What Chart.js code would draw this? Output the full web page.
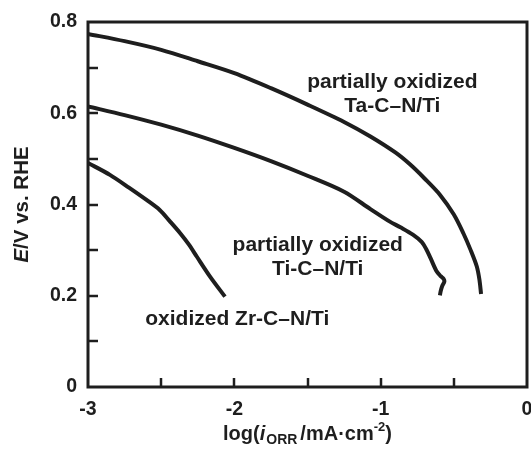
<!DOCTYPE html>
<html>
<head>
<meta charset="utf-8">
<script src="https://cdn.jsdelivr.net/npm/chart.js@4/dist/chart.umd.min.js"></script>
<style>
  html, body { margin: 0; padding: 0; background: #fff; }
  #wrap { width: 531px; height: 451px; }
</style>
</head>
<body>
<div id="wrap"><canvas id="orrChart" width="531" height="451"></canvas></div>
<script>
// Данные: log(i_ORR) и E
const taX = [-3, -2.75, -2.5, -2.25, -2, -1.75, -1.5, -1.25, -1.07, -0.9, -0.8, -0.7, -0.594, -0.5, -0.435, -0.385, -0.343, -0.325, -0.314];
const taE = [0.774, 0.758, 0.739, 0.714, 0.688, 0.655, 0.619, 0.581, 0.549, 0.514, 0.488, 0.457, 0.421, 0.378, 0.337, 0.3, 0.264, 0.235, 0.204];

const tiX = [-3, -2.75, -2.5, -2.25, -2, -1.75, -1.5, -1.25, -1.07, -0.94, -0.865, -0.78, -0.72, -0.69, -0.66, -0.62, -0.59, -0.57, -0.565, -0.58, -0.59, -0.595];
const tiE = [0.615, 0.596, 0.575, 0.551, 0.524, 0.495, 0.463, 0.428, 0.39, 0.363, 0.35, 0.334, 0.318, 0.303, 0.283, 0.255, 0.243, 0.237, 0.231, 0.221, 0.21, 0.201];

const zrX = [-3, -2.85, -2.72, -2.6, -2.51, -2.44, -2.37, -2.31, -2.257, -2.166, -2.064];
const zrE = [0.491, 0.465, 0.437, 0.41, 0.388, 0.363, 0.337, 0.312, 0.286, 0.242, 0.198];

// Подписи кривых
const curveLabels = [
    { x: -0.92, y: 0.667, lines: ['partially oxidized', 'Ta-C\u2013N/Ti'] },
    { x: -1.43, y: 0.311, lines: ['partially oxidized', 'Ti-C\u2013N/Ti'] },
    { x: -1.98, y: 0.149, lines: ['oxidized Zr-C\u2013N/Ti'] }
];

const xTickLabels = { '-3': '-3', '-2': '-2', '-1': '-1', '0': '0' };
const yTickLabels = { '0': '0', '0.2': '0.2', '0.4': '0.4', '0.6': '0.6', '0.8': '0.8' };

const INK = '#1e1e1e';
const FONT = '"Liberation Sans", Arial, sans-serif';

function toPoints(xs, ys) {
    return xs.map((x, i) => ({ x: x, y: ys[i] }));
}

function lineDataset(xs, ys) {
    return {
        data: toPoints(xs, ys),
        showLine: true,
        borderColor: INK,
        borderWidth: 4,
        pointRadius: 0,
        tension: 0.3,
        fill: false
    };
}

// Рамка и внутренние засечки
const framePlugin = {
    id: 'frameTicks',
    afterDatasetsDraw(chart) {
        const ctx = chart.ctx;
        const a = chart.chartArea;
        const xs = chart.scales.x, ys = chart.scales.y;
        ctx.save();
        ctx.strokeStyle = INK;
        ctx.lineWidth = 2.5;
        for (let v = -2.5; v < 0; v += 0.5) {
            const px = Math.round(xs.getPixelForValue(v));
            ctx.beginPath();
            ctx.moveTo(px, a.bottom);
            ctx.lineTo(px, a.bottom - 9);
            ctx.stroke();
        }
        for (let k = 1; k < 8; k++) {
            const py = Math.round(ys.getPixelForValue(k / 10));
            ctx.beginPath();
            ctx.moveTo(a.left, py);
            ctx.lineTo(a.left + 10, py);
            ctx.stroke();
        }
        ctx.lineWidth = 3;
        ctx.strokeRect(a.left, a.top, a.right - a.left, a.bottom - a.top);
        ctx.restore();
    }
};

// Подписи кривых
const labelPlugin = {
    id: 'curveLabels',
    afterDatasetsDraw(chart) {
        const ctx = chart.ctx;
        const xs = chart.scales.x, ys = chart.scales.y;
        ctx.save();
        ctx.fillStyle = INK;
        ctx.font = 'bold 21px ' + FONT;
        ctx.textAlign = 'center';
        ctx.textBaseline = 'middle';
        for (const lab of curveLabels) {
            const px = xs.getPixelForValue(lab.x);
            const py = ys.getPixelForValue(lab.y);
            lab.lines.forEach((t, i) => ctx.fillText(t, px, py + i * 24));
        }
        ctx.restore();
    }
};

// Подписи осей с курсивом и индексами
function drawRuns(ctx, runs, x, y) {
    let cx = x;
    for (const r of runs) {
        ctx.font = r.font;
        ctx.fillText(r.text, cx, y + (r.dy || 0));
        cx += ctx.measureText(r.text).width + (r.gap || 0);
    }
}

function runsWidth(ctx, runs) {
    let w = 0;
    for (const r of runs) {
        ctx.font = r.font;
        w += ctx.measureText(r.text).width + (r.gap || 0);
    }
    return w;
}

const titlePlugin = {
    id: 'axisTitles',
    afterDraw(chart) {
        const ctx = chart.ctx;
        const a = chart.chartArea;
        ctx.save();
        ctx.fillStyle = INK;
        ctx.textBaseline = 'alphabetic';
        ctx.textAlign = 'left';

        const xRuns = [
            { text: 'log(', font: 'bold 20px ' + FONT },
            { text: 'i', font: 'italic bold 20px ' + FONT, gap: 1 },
            { text: 'ORR', font: 'bold 14px ' + FONT, dy: 4, gap: 3 },
            { text: '/mA\u00b7cm', font: 'bold 20px ' + FONT },
            { text: '-2', font: 'bold 13px ' + FONT, dy: -9 },
            { text: ')', font: 'bold 20px ' + FONT }
        ];
        const xw = runsWidth(ctx, xRuns);
        drawRuns(ctx, xRuns, (a.left + a.right) / 2 - xw / 2, 440);

        const yRuns = [
            { text: 'E', font: 'italic bold 20.5px ' + FONT },
            { text: '/V vs. RHE', font: 'bold 20.5px ' + FONT }
        ];
        const yw = runsWidth(ctx, yRuns);
        ctx.translate(28, (a.top + a.bottom) / 2);
        ctx.rotate(-Math.PI / 2);
        drawRuns(ctx, yRuns, -yw / 2, 0);
        ctx.restore();
    }
};

window.onload = () => {
    const ctx = document.getElementById('orrChart').getContext('2d');
    new Chart(ctx, {
        type: 'scatter',
        data: {
            datasets: [
                lineDataset(taX, taE),
                lineDataset(tiX, tiE),
                lineDataset(zrX, zrE)
            ]
        },
        options: {
            responsive: false,
            animation: false,
            layout: { padding: { left: 0, right: 4, top: 22, bottom: 0 } },
            plugins: { legend: { display: false }, tooltip: { enabled: false } },
            scales: {
                x: {
                    type: 'linear', min: -3, max: 0,
                    grid: { display: false, drawTicks: false },
                    border: { display: false },
                    afterFit: s => { s.height = 64; s.paddingLeft = 0; s.paddingRight = 0; },
                    ticks: {
                        stepSize: 0.5, autoSkip: false, maxRotation: 0, padding: 11,
                        color: INK, font: { family: FONT, size: 19.5, weight: 'bold' },
                        callback: v => xTickLabels[String(v)] || ''
                    }
                },
                y: {
                    type: 'linear', min: 0, max: 0.8,
                    grid: { display: false, drawTicks: false },
                    border: { display: false },
                    afterFit: s => { s.width = 88; s.paddingTop = 0; s.paddingBottom = 0; },
                    ticks: {
                        stepSize: 0.1, autoSkip: false, padding: 11,
                        color: INK, font: { family: FONT, size: 19.5, weight: 'bold' },
                        callback: v => yTickLabels[String(Math.round(v * 10) / 10)] || ''
                    }
                }
            }
        },
        plugins: [framePlugin, labelPlugin, titlePlugin]
    });
};
</script>
</body>
</html>
